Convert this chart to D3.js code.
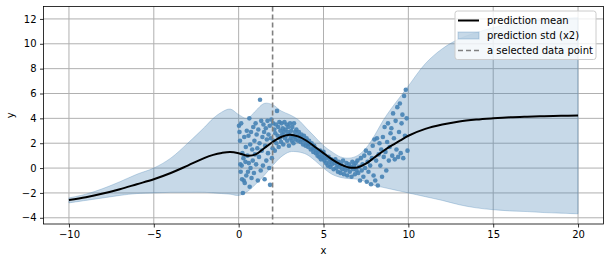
<!DOCTYPE html>
<html>
<head>
<meta charset="utf-8">
<script src="https://cdn.jsdelivr.net/npm/d3@7"></script>
<style>
  body { margin: 0; background: #fff; }
  svg { display: block; font-family: "DejaVu Sans", sans-serif; }
</style>
</head>
<body>
<svg width="608" height="262"></svg>
<script>
// prediction grid
var gridX = [-10, -9, -8, -7, -6, -5, -4, -3, -2, -1.5, -1, -0.5, 0, 0.5, 1, 1.5, 2, 2.5, 3, 3.5, 4, 4.5, 5, 5.5, 6, 6.5, 7, 7.5, 8, 8.5, 9, 9.5, 10, 11, 12, 13, 14, 15, 16, 17, 18, 19, 20];
var meanY = [-2.56, -2.34, -2.05, -1.7, -1.3, -0.9, -0.4, 0.2, 0.82, 1.06, 1.22, 1.3, 1.2, 1.0, 1.1, 1.6, 2.1, 2.5, 2.68, 2.55, 2.2, 1.7, 1.2, 0.7, 0.3, 0.05, 0.05, 0.35, 0.85, 1.35, 1.8, 2.2, 2.6, 3.15, 3.5, 3.75, 3.9, 4.0, 4.08, 4.13, 4.17, 4.2, 4.22];
var upperY = [-2.4, -2.1, -1.65, -1.1, -0.5, 0.0, 0.8, 2.0, 3.3, 4.0, 4.5, 4.75, 4.3, 4.0, 4.6, 5.2, 5.1, 4.6, 4.3, 3.9, 3.2, 2.5, 1.8, 1.3, 0.9, 0.8, 1.0, 1.6, 2.6, 3.8, 4.8, 5.7, 6.6, 8.4, 9.6, 10.4, 10.9, 11.3, 11.6, 11.8, 11.95, 12.05, 12.1];
var lowerY = [-2.8, -2.6, -2.4, -2.2, -2.05, -2.0, -1.95, -1.95, -1.95, -2.0, -2.05, -2.1, -2.2, -1.9, -1.3, -0.6, 0.2, 0.9, 1.3, 1.3, 1.1, 0.6, 0.0, -0.5, -0.75, -0.85, -0.9, -1.1, -1.4, -1.55, -1.7, -1.85, -2.0, -2.3, -2.6, -2.95, -3.2, -3.35, -3.45, -3.5, -3.58, -3.63, -3.68];

// observed data
var obsX = [0.02, 0.05, 0.08, 0.1, 0.12, 0.15, 0.18, 0.2, 0.22, 0.25, 0.28, 0.3, 0.33, 0.36, 0.4, 0.42, 0.45, 0.48,
  0.52, 0.55, 0.58, 0.6, 0.63, 0.65, 0.68, 0.7, 0.73, 0.76, 0.8, 0.83, 0.86, 0.9, 0.93, 0.96,
  1.0, 1.03, 1.06, 1.1, 1.13, 1.16, 1.2, 1.23, 1.26, 1.3, 1.33, 1.36, 1.4, 1.43, 1.46, 1.5,
  1.53, 1.56, 1.6, 1.63, 1.66, 1.7, 1.73, 1.76, 1.8, 1.83, 1.85, 1.9, 1.93, 1.96, 2.0,
  2.03, 2.06, 2.1, 2.13, 2.16, 2.2, 2.23, 2.26, 2.3, 2.33, 2.36, 2.4, 2.43, 2.46, 2.5,
  2.53, 2.56, 2.6, 2.63, 2.66, 2.7, 2.73, 2.76, 2.8, 2.83, 2.86, 2.9, 2.93, 2.96,
  3.0, 3.03, 3.06, 3.1, 3.13, 3.16, 3.2, 3.23, 3.26, 3.3, 3.33, 3.36, 3.4, 3.45,
  3.5, 3.55, 3.6, 3.65, 3.7, 3.75, 3.8, 3.85, 3.9, 3.95,
  4.0, 4.05, 4.1, 4.15, 4.2, 4.25, 4.3, 4.35, 4.4, 4.45,
  4.5, 4.55, 4.6, 4.65, 4.7, 4.75, 4.8, 4.85, 4.9, 4.95,
  5.0, 5.05, 5.1, 5.15, 5.2, 5.25, 5.3, 5.35, 5.4, 5.45,
  5.5, 5.55, 5.6, 5.65, 5.7, 5.75, 5.8, 5.85, 5.9, 5.95,
  6.0, 6.05, 6.1, 6.15, 6.2, 6.25, 6.3, 6.35, 6.4, 6.45,
  6.5, 6.55, 6.6, 6.65, 6.7, 6.75, 6.8, 6.85, 6.9, 6.95,
  7.0, 7.05, 7.1, 7.15, 7.2, 7.25, 7.3, 7.35, 7.4, 7.45,
  7.5, 7.55, 7.6, 7.65, 7.7, 7.75, 7.8, 7.85, 7.9, 7.95,
  8.0, 8.05, 8.1, 8.15, 8.2, 8.25, 8.3, 8.35, 8.4, 8.45,
  8.5, 8.55, 8.6, 8.65, 8.7, 8.75, 8.8, 8.85, 8.9, 8.95,
  9.0, 9.05, 9.1, 9.15, 9.2, 9.25, 9.3, 9.35, 9.4, 9.45,
  9.5, 9.55, 9.6, 9.65, 9.7, 9.75, 9.8, 9.85, 9.9, 9.95];
var obsY = [3.4, 2.9, 2.2, 0.3, -0.3, 3.6, 0.2, -0.9, 1.2, -2.0, 0.8, -1.0, 2.5, -1.2, 0.5, 1.7, -0.6, 3.0,
  1.0, -0.3, 2.6, 0.4, 4.0, -1.5, 1.9, 0.0, 2.9, -0.8, 1.5, 0.6, 3.3, -0.4, 2.2, 1.1,
  3.6, 0.3, 2.7, 1.6, -1.0, 3.1, 0.9, 2.0, 5.5, -0.2, 3.8, 1.4, 2.5, 0.2, 3.5, 2.9,
  -0.9, 1.8, 3.2, 0.6, 2.3, 3.8, 1.2, 2.7, 0.0, 3.4, -1.35, 2.4, 3.9, 0.8, 1.6,
  3.6, 2.2, 3.1, 1.4, 2.8, 3.5, 2.0, 4.6, 2.6, 3.3, 1.7, 3.7, 2.4, 3.0, 2.1,
  3.6, 2.7, 3.2, 1.9, 2.9, 3.7, 2.4, 3.1, 2.6, 3.5, 2.2, 2.9, 3.3, 1.8,
  2.7, 3.6, 2.4, 3.0, 2.2, 3.3, 2.6, 2.0, 3.6, 2.5, 2.9, 2.3, 3.1, 2.6,
  2.2, 2.9, 2.5, 2.1, 2.7, 2.3, 1.9, 2.6, 2.2, 1.8,
  2.4, 2.0, 1.7, 2.2, 1.9, 1.5, 2.0, 1.6, 1.3, 1.8,
  1.6, 1.2, 1.5, 1.0, 1.3, 0.9, 1.4, 0.7, 1.1, 0.8,
  1.3, 0.6, 1.0, 0.4, 0.8, 0.2, 0.9, 0.5, 0.1, 0.7,
  0.3, 0.6, -0.1, 0.4, 0.7, 0.0, 0.3, -0.3, 0.5, 0.1,
  -0.4, 0.3, -0.1, 0.6, -0.5, 0.1, -0.2, 0.4, -0.6, 0.0,
  0.3, -0.3, 0.1, -0.7, 0.5, -0.1, 0.2, -0.5, 0.4, -0.2,
  0.6, -0.4, 0.1, -1.0, 0.8, -0.2, 0.3, -0.7, 1.0, 0.0,
  1.4, -1.1, 0.5, -0.3, 1.2, 0.2, -1.3, 0.8, 1.8, -0.6,
  2.3, -1.0, 0.6, 2.4, -1.4, 1.1, 2.0, 0.2, 1.5, -0.7,
  2.5, 0.9, 3.3, 1.3, -0.2, 2.1, 3.6, 0.6, 1.7, 2.8,
  3.2, 1.0, 4.4, 2.4, 0.7, 3.8, 1.5, 4.9, 0.9, 2.9,
  5.2, 1.2, 3.6, 4.3, 0.8, 5.8, 2.6, 6.3, 4.0, 1.4];

var selectedX = 2.0;

var xTicks = [-10, -5, 0, 5, 10, 15, 20];
var yTicks = [-4, -2, 0, 2, 4, 6, 8, 10, 12];

var svg = d3.select('svg'),
    width = +svg.attr('width'),
    height = +svg.attr('height');

var margin = { top: 6.5, right: 4.5, bottom: 38, left: 43.5 };
var x = d3.scaleLinear().domain([-11.5, 21.5]).range([margin.left, width - margin.right]);
var y = d3.scaleLinear().domain([-4.5, 13]).range([height - margin.bottom, margin.top]);

var steel = '#4682b4';

// grid
svg.append('g')
    .selectAll('line')
    .data(xTicks)
    .enter().append('line')
        .attr('x1', d => x(d)).attr('x2', d => x(d))
        .attr('y1', margin.top).attr('y2', height - margin.bottom)
        .attr('stroke', '#b0b0b0').attr('stroke-width', 1);
svg.append('g')
    .selectAll('line')
    .data(yTicks)
    .enter().append('line')
        .attr('x1', margin.left).attr('x2', width - margin.right)
        .attr('y1', d => y(d)).attr('y2', d => y(d))
        .attr('stroke', '#b0b0b0').attr('stroke-width', 1);

var band = gridX.map((d, i) => ({ x: d, lo: lowerY[i], hi: upperY[i], m: meanY[i] }));

var area = d3.area()
    .x(d => x(d.x))
    .y0(d => y(d.lo))
    .y1(d => y(d.hi))
    .curve(d3.curveCatmullRom.alpha(0.5));

svg.append('path')
    .datum(band)
    .attr('d', area)
    .attr('fill', steel)
    .attr('fill-opacity', 0.3)
    .attr('stroke', steel)
    .attr('stroke-opacity', 0.3)
    .attr('stroke-width', 1);

// observations
svg.append('g')
    .selectAll('circle')
    .data(obsX.map((d, i) => [d, obsY[i]]))
    .enter().append('circle')
        .attr('cx', d => x(d[0]))
        .attr('cy', d => y(d[1]))
        .attr('r', 2.3)
        .attr('fill', steel)
        .attr('fill-opacity', 0.9);

// mean
var line = d3.line()
    .x(d => x(d.x))
    .y(d => y(d.m))
    .curve(d3.curveCatmullRom.alpha(0.5));

svg.append('path')
    .datum(band)
    .attr('d', line)
    .attr('fill', 'none')
    .attr('stroke', '#000')
    .attr('stroke-width', 2);

// selected point
svg.append('line')
    .attr('x1', x(selectedX)).attr('x2', x(selectedX))
    .attr('y1', margin.top).attr('y2', height - margin.bottom)
    .attr('stroke', '#808080')
    .attr('stroke-width', 1.6)
    .attr('stroke-dasharray', '5,3');

// axes
var fmt = d => d < 0 ? '\u2212' + Math.abs(d) : d;
var xAxis = svg.append('g')
    .attr('transform', 'translate(0,' + (height - margin.bottom) + ')')
    .call(d3.axisBottom(x).tickValues(xTicks).tickSize(3.5).tickPadding(3.5).tickFormat(fmt));
var yAxis = svg.append('g')
    .attr('transform', 'translate(' + margin.left + ',0)')
    .call(d3.axisLeft(y).tickValues(yTicks).tickSize(3.5).tickPadding(3.5).tickFormat(fmt));

[xAxis, yAxis].forEach(g => {
    g.select('.domain').remove();
    g.selectAll('text').attr('font-size', 10).attr('fill', '#000').attr('font-family', '"DejaVu Sans", sans-serif');
    g.selectAll('line').attr('stroke', '#000').attr('stroke-width', 0.8);
});

svg.append('rect')
    .attr('x', margin.left).attr('y', margin.top)
    .attr('width', width - margin.left - margin.right)
    .attr('height', height - margin.top - margin.bottom)
    .attr('fill', 'none').attr('stroke', '#000').attr('stroke-width', 0.8);

svg.append('text')
    .attr('x', (margin.left + width - margin.right) / 2)
    .attr('y', 254)
    .attr('text-anchor', 'middle')
    .attr('font-size', 10)
    .text('x');
svg.append('text')
    .attr('transform', 'translate(14,' + ((margin.top + height - margin.bottom) / 2) + ') rotate(-90)')
    .attr('text-anchor', 'middle')
    .attr('font-size', 10)
    .text('y');

// legend
var legendItems = ['prediction mean', 'prediction std (x2)', 'a selected data point'];
var lg = svg.append('g').attr('transform', 'translate(455,11)');
lg.append('rect')
    .attr('width', 141).attr('height', 48.5)
    .attr('rx', 2.5)
    .attr('fill', '#fff').attr('fill-opacity', 0.8)
    .attr('stroke', '#cccccc').attr('stroke-width', 1);

var row = lg.selectAll('g.item')
    .data(legendItems)
    .enter().append('g')
        .attr('class', 'item')
        .attr('transform', (d, i) => 'translate(0,' + (9.5 + i * 15) + ')');

row.append('text')
    .attr('x', 32)
    .attr('y', 3.6)
    .attr('font-size', 10)
    .attr('fill', '#000')
    .text(d => d);

row.filter((d, i) => i === 0).append('line')
    .attr('x1', 3).attr('x2', 24).attr('y1', 0).attr('y2', 0)
    .attr('stroke', '#000').attr('stroke-width', 2);
row.filter((d, i) => i === 1).append('rect')
    .attr('x', 3).attr('y', -3.5).attr('width', 21).attr('height', 7)
    .attr('fill', steel).attr('fill-opacity', 0.3)
    .attr('stroke', steel).attr('stroke-opacity', 0.3);
row.filter((d, i) => i === 2).append('line')
    .attr('x1', 3).attr('x2', 24).attr('y1', 0).attr('y2', 0)
    .attr('stroke', '#808080').attr('stroke-width', 1.6)
    .attr('stroke-dasharray', '5,3');
</script>
</body>
</html>
